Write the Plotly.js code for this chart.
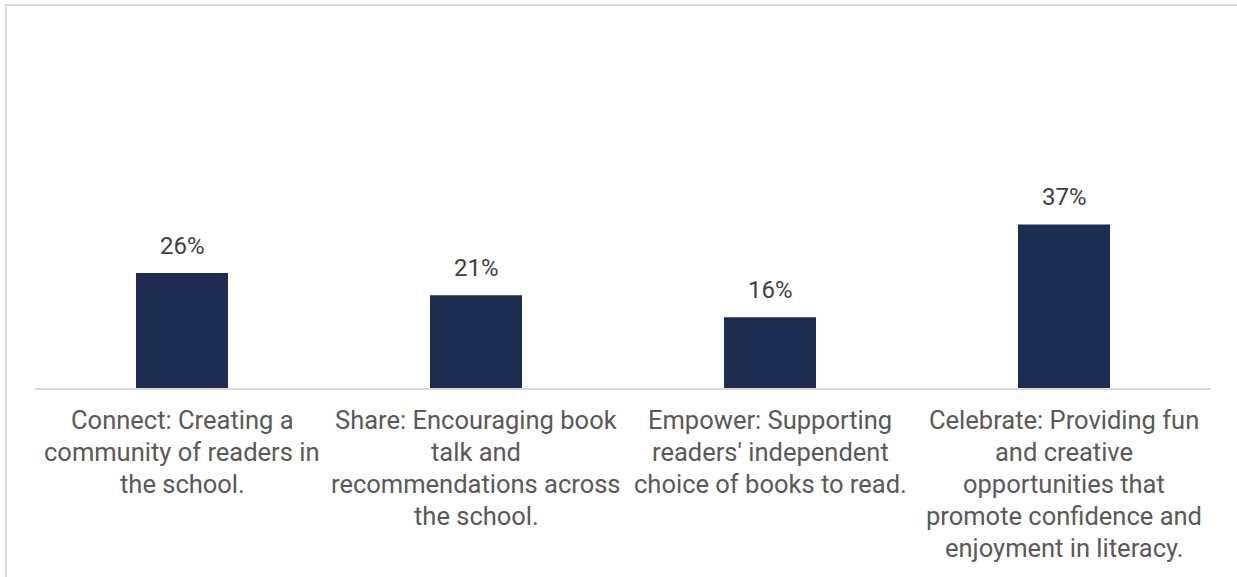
<!DOCTYPE html>
<html>
<head>
<meta charset="utf-8">
<script src="https://cdn.plot.ly/plotly-3.0.1.min.js"></script>
<style>
  html, body { margin: 0; padding: 0; background: #ffffff; overflow: hidden; }
  #frame { position: absolute; left: 5px; top: 4px; width: 1400px; height: 700px;
           border-top: 2px solid #d9d9d9; border-left: 2px solid #d9d9d9; box-sizing: border-box; }
  #chart { position: absolute; left: 0; top: 0; width: 1237px; height: 577px; }
</style>
</head>
<body>
<div id="frame"></div>
<div id="chart"></div>
<script>
// ---- data ----
const categories = [
  "Connect: Creating a<br>community of readers in<br>the school.",
  "Share: Encouraging book<br>talk and<br>recommendations across<br>the school.",
  "Empower: Supporting<br>readers' independent<br>choice of books to read.",
  "Celebrate: Providing fun<br>and creative<br>opportunities that<br>promote confidence and<br>enjoyment in literacy."
];
const values = [26, 21, 16, 37];
const valueLabels = ["26%", "21%", "16%", "37%"];

// ---- styles ----
const FONT = "Roboto, 'Open Sans', sans-serif";
const LABEL_COLOR = "#595959";
const BAR_COLOR = "#1f2c52";

const annotations = [];
// value labels above bars
categories.forEach((c, i) => {
  annotations.push({
    x: c, y: values[i], xref: "x", yref: "y",
    text: valueLabels[i], showarrow: false,
    xanchor: "center", yanchor: "middle", yshift: 27,
    font: { family: FONT, size: 24, color: "#404040" }
  });
});
// category labels, one annotation per line (line spacing 32px)
categories.forEach((c) => {
  c.split("<br>").forEach((line, j) => {
    annotations.push({
      x: c, y: 0, xref: "x", yref: "paper",
      text: line, showarrow: false,
      xanchor: "center", yanchor: "middle", yshift: -32 - 32 * j,
      font: { family: FONT, size: 25.5, color: LABEL_COLOR }
    });
  });
});

const trace = {
  type: "bar",
  x: categories,
  y: values,
  marker: { color: BAR_COLOR },
  hoverinfo: "skip"
};

const layout = {
  width: 1237, height: 577,
  margin: { l: 35, r: 26, t: 167, b: 189, pad: 0 },
  paper_bgcolor: "rgba(0,0,0,0)",
  plot_bgcolor: "rgba(0,0,0,0)",
  showlegend: false,
  bargap: 0.687,
  xaxis: {
    type: "category",
    showticklabels: false,
    showgrid: false, zeroline: false,
    showline: true, linecolor: "#d9d9d9", linewidth: 2,
    ticks: ""
  },
  yaxis: {
    range: [0, 50],
    visible: false,
    showgrid: false, zeroline: false
  },
  annotations: annotations
};

Plotly.newPlot("chart", [trace], layout, { staticPlot: true, displayModeBar: false });
</script>
</body>
</html>
